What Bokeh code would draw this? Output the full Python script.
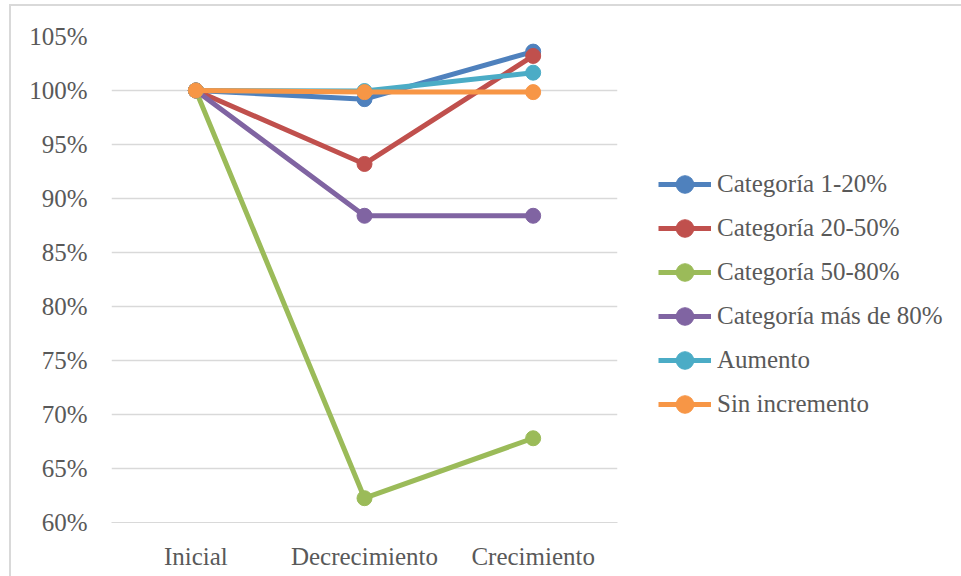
from bokeh.plotting import figure
from bokeh.models import (ColumnDataSource, FactorRange, FixedTicker, NumeralTickFormatter,
                          Legend, LegendItem)
from bokeh.embed import file_html
from bokeh.resources import INLINE

# Scenarios on the horizontal axis
stages = ["Inicial", "Decrecimiento", "Crecimiento"]

# Relative value of each series per scenario (1.0 = 100%)
cat_1_20 = [1.000, 0.992, 1.036]
cat_20_50 = [1.000, 0.932, 1.032]
cat_50_80 = [1.000, 0.6225, 0.678]
cat_mas_80 = [1.000, 0.884, 0.884]
aumento = [1.000, 0.9995, 1.0165]
sin_incremento = [1.000, 0.9985, 0.9985]

series_names = ["Categoría 1-20%", "Categoría 20-50%", "Categoría 50-80%",
                "Categoría más de 80%", "Aumento", "Sin incremento"]
series_values = [cat_1_20, cat_20_50, cat_50_80, cat_mas_80, aumento, sin_incremento]
series_colors = ["#4F81BD", "#C0504D", "#9BBB59", "#8064A2", "#4BACC6", "#F79646"]

y_ticks = [0.60, 0.65, 0.70, 0.75, 0.80, 0.85, 0.90, 0.95, 1.00, 1.05]

FONT = "Liberation Serif"
FONT_SIZE = "25px"
TEXT_COLOR = "#595959"
GRID_COLOR = "#D9D9D9"

p = figure(
    x_range=FactorRange(*stages),
    y_range=(0.60, 1.05),
    frame_width=506, frame_height=486,
    min_border_left=100, min_border_right=344,
    min_border_top=30, min_border_bottom=54,
    output_backend="svg", toolbar_location=None,
    background_fill_color="white", border_fill_color="white",
)
p.outline_line_color = None
p.margin = (4, 0, 0, 9)
p.styles = {"border-top": f"2px solid {GRID_COLOR}", "border-left": f"2px solid {GRID_COLOR}"}

# Axes
p.yaxis.ticker = FixedTicker(ticks=y_ticks)
p.yaxis.formatter = NumeralTickFormatter(format="0%")
p.yaxis.axis_line_color = None
p.yaxis.major_tick_line_color = None
p.yaxis.minor_tick_line_color = None
p.yaxis.major_label_standoff = 18
p.xaxis.axis_line_color = GRID_COLOR
p.xaxis.axis_line_width = 1
p.xaxis.major_tick_line_color = None
p.xaxis.minor_tick_line_color = None
p.xaxis.major_label_standoff = 14
for ax in (p.xaxis, p.yaxis):
    ax.major_label_text_font = FONT
    ax.major_label_text_font_size = FONT_SIZE
    ax.major_label_text_color = TEXT_COLOR

p.xgrid.grid_line_color = None
p.ygrid.grid_line_color = GRID_COLOR
p.ygrid.grid_line_width = 1.5

# Series: line + round markers, later series drawn on top
items = []
for name, vals, color in zip(series_names, series_values, series_colors):
    src = ColumnDataSource(data=dict(x=stages, y=vals))
    ln = p.line("x", "y", source=src, line_color=color, line_width=5)
    mk = p.scatter("x", "y", source=src, marker="circle", size=15,
                   fill_color=color, line_color=color)
    items.append(LegendItem(label=name, renderers=[ln, mk]))

legend = Legend(
    items=items,
    location=(41, 96),
    orientation="vertical",
    glyph_width=53, glyph_height=44,
    label_height=44, spacing=0,
    label_standoff=6,
    padding=0, margin=0,
    border_line_color=None,
    background_fill_alpha=0,
    label_text_font=FONT,
    label_text_font_size=FONT_SIZE,
    label_text_color=TEXT_COLOR,
)
p.add_layout(legend, "right")

open("out.html", "w").write(file_html(p, INLINE))
